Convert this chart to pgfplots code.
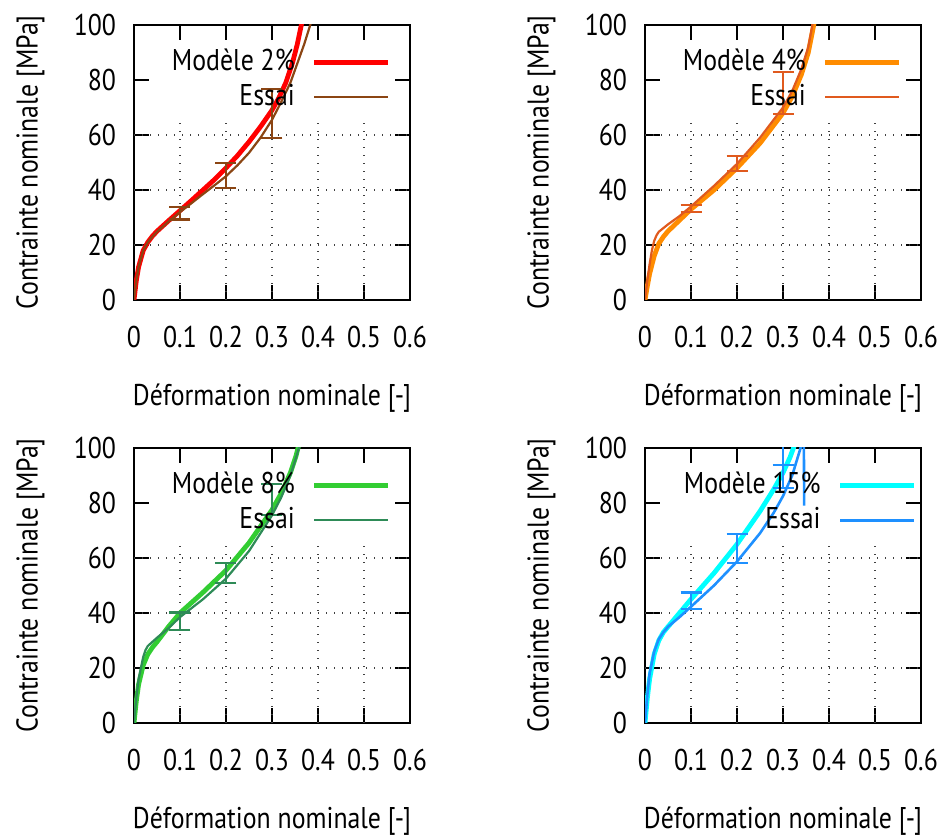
\documentclass[border=0pt]{standalone}
\usepackage{fontspec}
\setmainfont{PT Sans}[FakeStretch=0.86]
\usepackage{pgfplots}
\pgfplotsset{compat=1.18}
\definecolor{cRed}{HTML}{FF0000}
\definecolor{cBrown}{HTML}{8B4513}
\definecolor{cOrange}{HTML}{FF8C00}
\definecolor{cOrRed}{HTML}{E05A1E}
\definecolor{cLime}{HTML}{32CD32}
\definecolor{cSea}{HTML}{2E8B57}
\definecolor{cCyan}{HTML}{00FFFF}
\definecolor{cDodger}{HTML}{1E90FF}
\pgfplotsset{
  myax/.style={
    width=138pt, height=137.5pt, scale only axis,
    xmin=0, xmax=0.6, ymin=0, ymax=100,
    xtick={0,0.1,0.2,0.3,0.4,0.5,0.6},
    ytick={0,20,40,60,80,100},
    /pgf/number format/assume math mode=true,
    tick align=inside, major tick length=7.5pt,
    axis line style={line width=1.3pt},
    every tick/.style={black, line width=1pt},
    xticklabel style={yshift=-9.5pt},
    yticklabel style={xshift=-5.5pt},
    xlabel={Déformation nominale [-]},
    ylabel={Contrainte nominale [MPa]},
    xlabel style={at={(axis description cs:0.5,-0.357)}, anchor=center},
    ylabel style={at={(axis description cs:-0.375,0.5)}, anchor=center},
    legend style={at={(axis description cs:0.931,0.917)}, anchor=north east,
      draw=none, fill=none, inner sep=0pt, row sep=3.5pt, column sep=8.5pt,
      nodes={inner sep=0pt, text height=11pt, text depth=3pt}},
    legend cell align=right, legend plot pos=right,
    legend image code/.code={\draw[##1] (0pt,0pt) -- (37pt,0pt);},
    clip=true,
  },
  gridl/.style={black!75, line width=0.6pt, dash pattern=on 0.6pt off 3.4pt, forget plot},
  model/.style={line width=2.4pt},
  essai/.style={line width=1.1pt},
  ebar/.style={forget plot, only marks, mark=*, mark size=0pt,
    mark options={draw opacity=0, fill opacity=0},
    error bars/y dir=both, error bars/y explicit,
    error bars/error mark=|,
    error bars/error bar style={line width=1.1pt},
    error bars/error mark options={line width=1.1pt, mark size=5.25pt, draw opacity=1}},
}
\newcommand{\mygrid}{%
  \pgfplotsinvokeforeach{0.1,0.2,0.3,0.4,0.5}{\addplot[gridl] coordinates {(##1,0) (##1,65.5)};}%
  \pgfplotsinvokeforeach{20,40,60}{\addplot[gridl] coordinates {(0,##1) (0.6,##1)};}%
}
\begin{document}
\begin{tikzpicture}[font=\fontsize{15}{18}\selectfont]
\useasboundingbox (0,0) rectangle (471.5pt,419.5pt);
% ---------- 2% ----------
\begin{axis}[myax, at={(67pt,269.5pt)}, anchor=south west]
\mygrid
\addplot[model, cRed] coordinates {
(0,0) (0.005,7) (0.01,12) (0.02,18) (0.03,21) (0.04,23.2) (0.05,25) (0.075,28.8)
(0.1,32.5) (0.125,36.2) (0.15,40) (0.175,43.8) (0.2,48) (0.225,52.5) (0.25,57.5)
(0.275,63) (0.3,69) (0.315,73.5) (0.33,79) (0.345,86.5) (0.355,93) (0.365,101)};
\addlegendentry{Modèle 2\%}
\addplot[essai, cBrown] coordinates {
(0,0) (0.005,7) (0.01,12) (0.02,18) (0.03,21) (0.04,23) (0.05,24.8) (0.075,28.5)
(0.1,32) (0.125,35.2) (0.15,38.5) (0.175,41.7) (0.2,45) (0.225,49) (0.25,53.5)
(0.275,59) (0.3,65.5) (0.32,72) (0.34,79) (0.355,86) (0.37,93) (0.385,101)};
\addlegendentry{Essai}
\addplot[cBrown, ebar] table[y error=e] {
x y e
0.1 31.5 2.2
0.2 45.3 4.5
0.3 67.7 8.9
};
\end{axis}
% ---------- 4% ----------
\begin{axis}[myax, at={(322.5pt,269.5pt)}, anchor=south west]
\mygrid
\addplot[model, cOrange] coordinates {
(0,0) (0.005,5) (0.01,9.5) (0.02,16) (0.03,20.5) (0.04,23) (0.05,25) (0.075,29)
(0.1,33) (0.15,40) (0.2,48) (0.25,57) (0.3,68) (0.32,74) (0.34,82) (0.355,90) (0.368,101)};
\addlegendentry{Modèle 4\%}
\addplot[essai, cOrRed] coordinates {
(0,0) (0.005,7) (0.01,13) (0.015,18) (0.02,21.5) (0.025,23.5) (0.03,24.8) (0.05,27.5)
(0.075,30.5) (0.1,34) (0.15,41.5) (0.2,49.5) (0.25,59) (0.3,70) (0.32,76) (0.34,84)
(0.355,92) (0.365,101)};
\addlegendentry{Essai}
\addplot[cOrRed, ebar] table[y error=e] {
x y e
0.1 33.3 1.3
0.2 49.7 2.7
0.3 75.3 7.7
};
\end{axis}
% ---------- 8% ----------
\begin{axis}[myax, at={(67pt,58pt)}, anchor=south west]
\mygrid
\addplot[model, cLime] coordinates {
(0,0) (0.005,8) (0.01,14) (0.02,21) (0.03,25) (0.04,27.5) (0.05,29.5) (0.075,35)
(0.1,40) (0.15,47.5) (0.2,55.5) (0.25,65.5) (0.3,77.5) (0.32,83.5) (0.34,91)
(0.352,97) (0.358,101)};
\addlegendentry{Modèle 8\%}
\addplot[essai, cSea] coordinates {
(0,0) (0.005,9) (0.01,16) (0.02,24) (0.025,26.5) (0.03,28) (0.05,31) (0.075,34.5)
(0.1,38.5) (0.15,45) (0.2,52.5) (0.25,62.5) (0.3,75.5) (0.32,82) (0.34,90)
(0.355,98) (0.36,101)};
\addlegendentry{Essai}
\addplot[cSea, ebar] table[y error=e] {
x y e
0.1 37 3.2
0.2 54.6 3.6
0.3 81.2 5.7
};
\end{axis}
% ---------- 15% ----------
\begin{axis}[myax, at={(322.5pt,58pt)}, anchor=south west,
  legend style={at={(axis description cs:0.985,0.917)}}]
\mygrid
\addplot[model, cCyan] coordinates {
(0,0) (0.005,9) (0.01,16) (0.02,25) (0.03,30) (0.04,33) (0.05,35) (0.075,40)
(0.1,45) (0.15,54.5) (0.2,65) (0.25,77) (0.28,85) (0.3,91) (0.315,96.5) (0.325,101)};
\addlegendentry{Modèle 15\%}
\addplot[essai, line width=1.3pt, cDodger] coordinates {
(0,0) (0.005,10) (0.01,18) (0.02,26) (0.03,30.5) (0.04,33) (0.05,35) (0.075,38.5)
(0.1,42.3) (0.15,50) (0.2,58.7) (0.25,69) (0.28,76.5) (0.3,82.5) (0.32,90) (0.34,101)
(0.345,115) (0.346,79)};
\addlegendentry{Essai}
\addplot[cDodger, ebar] table[y error=e] {
x y e
0.1 44.4 3.05
0.2 63.5 5.2
0.3 89.6 4.2
0.3 110 16.2
};
\end{axis}
\end{tikzpicture}
\end{document}
